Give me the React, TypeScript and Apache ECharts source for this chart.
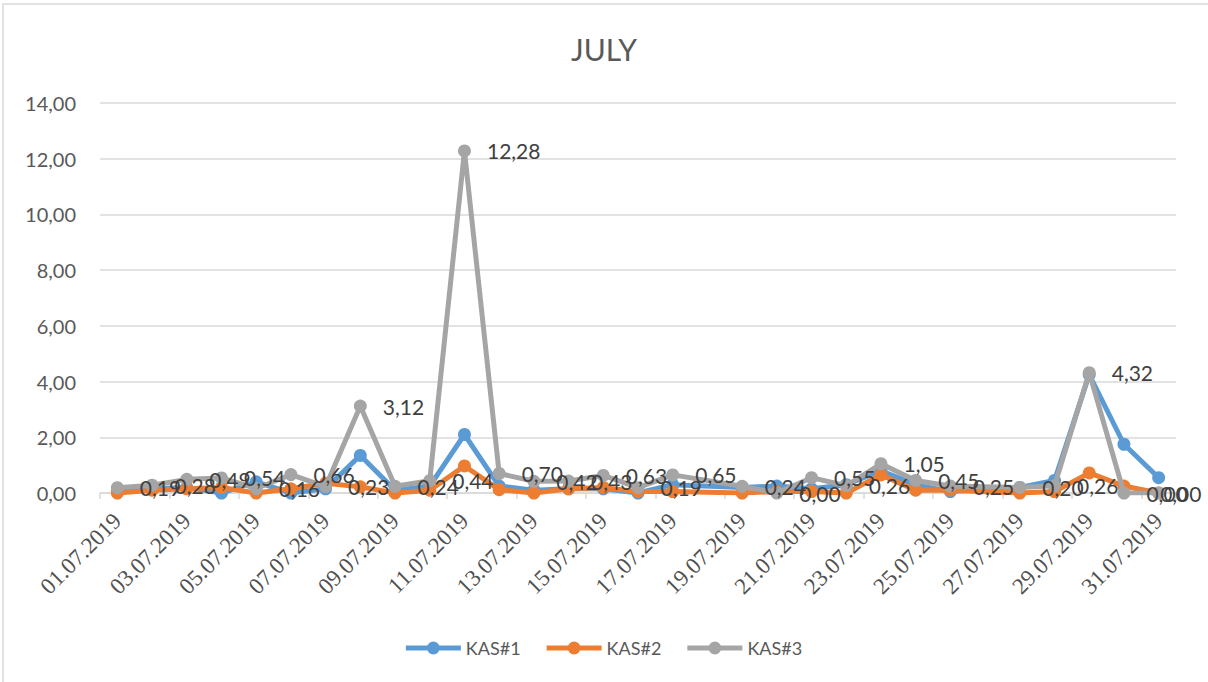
import React, { useEffect, useRef } from "react";
import * as echarts from "echarts";

const categories = [
  "01.07.2019", "02.07.2019", "03.07.2019", "04.07.2019", "05.07.2019", "06.07.2019",
  "07.07.2019", "08.07.2019", "09.07.2019", "10.07.2019", "11.07.2019", "12.07.2019",
  "13.07.2019", "14.07.2019", "15.07.2019", "16.07.2019", "17.07.2019", "18.07.2019",
  "19.07.2019", "20.07.2019", "21.07.2019", "22.07.2019", "23.07.2019", "24.07.2019",
  "25.07.2019", "26.07.2019", "27.07.2019", "28.07.2019", "29.07.2019", "30.07.2019",
  "31.07.2019",
];

const kas1 = [
  0.1, 0.15, 0.2, 0.0, 0.4, 0.0, 0.15, 1.35, 0.1, 0.25, 2.1, 0.25, 0.1, 0.15, 0.15, 0.0,
  0.3, null, 0.2, 0.25, 0.15, 0.3, 0.8, 0.3, 0.05, null, 0.2, 0.45, 4.25, 1.75, 0.55,
];
const kas2 = [
  0.0, 0.1, 0.15, 0.2, 0.0, 0.15, 0.35, 0.22, 0.0, 0.1, 0.97, 0.12, 0.0, 0.15, 0.2, 0.05,
  0.05, null, 0.0, 0.05, 0.05, 0.0, 0.65, 0.1, 0.1, null, 0.0, 0.05, 0.72, 0.25, 0.0,
];
const kas3 = [
  0.19, 0.28, 0.49, 0.54, 0.16, 0.66, 0.23, 3.12, 0.24, 0.44, 12.28, 0.7, 0.42, 0.43, 0.63,
  0.19, 0.65, null, 0.24, 0.0, 0.55, 0.26, 1.05, 0.45, 0.25, null, 0.2, 0.26, 4.32, 0.0, 0.0,
];

const yTicks = [0, 2, 4, 6, 8, 10, 12, 14];

const fmt = (v: number) => v.toFixed(2).replace(".", ",");

const legendIcon =
  "path://M0 4.5H55V9.5H0Z M21 7A6.5 6.5 0 1 1 34 7A6.5 6.5 0 1 1 21 7Z";

export default function App() {
  const ref = useRef<HTMLDivElement>(null);
  useEffect(() => {
    if (!ref.current) return;
    const chart = echarts.init(ref.current, undefined, { renderer: "svg" });
    const font = "Lato";
    const labelCfg = {
      show: true,
      position: "right",
      distance: 16,
      fontFamily: font,
      fontSize: 21,
      color: "#404040",
      formatter: (p: any) => (p.value == null ? "" : fmt(p.value)),
    };
    const kas3Data = kas3.map((v, i) =>
      i === kas3.length - 1 ? { value: v, label: { distance: -5 } } : v
    );
    const mkSeries = (name: string, data: any[], color: string, z: number, label: boolean) => ({
      name,
      type: "line",
      data,
      connectNulls: true,
      symbol: "circle",
      symbolSize: 13,
      z,
      itemStyle: { color },
      lineStyle: { color, width: 5, cap: "round", join: "round" },
      label: label ? labelCfg : { show: false },
    });
    chart.setOption({
      animation: false,
      backgroundColor: "#ffffff",
      title: {
        text: "JULY",
        left: "center",
        top: 29,
        textStyle: { fontFamily: font, fontSize: 30, fontWeight: "normal", color: "#595959" },
      },
      graphic: [
        {
          type: "rect",
          shape: { x: 3, y: 4, width: 1212, height: 690 },
          style: { fill: "none", stroke: "#d9d9d9", lineWidth: 1.5 },
          silent: true,
        },
      ],
      legend: {
        bottom: 20,
        left: "center",
        icon: legendIcon,
        itemWidth: 55,
        itemHeight: 13,
        itemGap: 26,
        textStyle: { fontFamily: font, fontSize: 18, color: "#595959" },
        data: ["KAS#1", "KAS#2", "KAS#3"],
      },
      grid: { left: 100, right: 32, top: 103, bottom: 189, containLabel: false },
      xAxis: {
        type: "category",
        data: categories,
        boundaryGap: true,
        axisLine: { lineStyle: { color: "#d9d9d9", width: 1.5 } },
        axisTick: { show: true, interval: 1, length: 6, lineStyle: { color: "#d9d9d9", width: 1.5 } },
        axisLabel: {
          interval: 1,
          rotate: 45,
          margin: 24,
          fontFamily: "Liberation Serif",
          fontSize: 23,
          color: "#505050",
        },
      },
      yAxis: {
        type: "value",
        min: 0,
        max: 14,
        interval: 2,
        axisLine: { show: false },
        axisTick: { show: false },
        splitLine: { lineStyle: { color: "#d9d9d9", width: 1.5 } },
        axisLabel: {
          margin: 24,
          fontFamily: font,
          fontSize: 20,
          color: "#595959",
          formatter: (v: number) => (yTicks.includes(v) ? fmt(v) : ""),
        },
      },
      series: [
        mkSeries("KAS#1", kas1, "#5B9BD5", 2, false),
        mkSeries("KAS#2", kas2, "#ED7D31", 3, false),
        mkSeries("KAS#3", kas3Data, "#A5A5A5", 4, true),
      ],
    });
    return () => chart.dispose();
  }, []);
  return (
    <div
      ref={ref}
      style={{ position: "fixed", left: 0, top: 0, width: 1208, height: 682 }}
    />
  );
}
